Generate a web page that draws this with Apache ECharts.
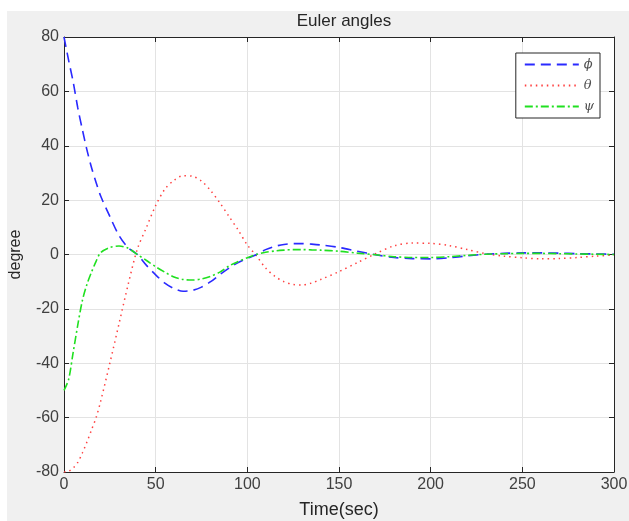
<!DOCTYPE html>
<html>
<head>
<meta charset="utf-8">
<script src="https://cdn.jsdelivr.net/npm/echarts@6/dist/echarts.min.js"></script>
<style>html,body{margin:0;padding:0;background:#fff}#c{width:629px;height:521px}</style>
</head>
<body>
<div id="c"></div>
<script>
const time = [0,2.5,5,7.5,10,12.5,15,17.5,20,25,30,35,40,45,50,55,60,65,70,75,80,85,90,95,100,105,110,115,120,125,130,135,140,150,160,170,180,190,200,210,220,230,240,250,260,270,280,290,300];
const phi = [80,71.5,63.5,54,46,38.5,32,26.5,21.5,14,7,2.5,0,-4,-7.5,-10.5,-12.5,-13.5,-13.2,-12,-10,-7.4,-5,-3,-1.4,0,1.8,3,3.7,4,4,3.8,3.5,2.6,1.2,-0.1,-1.1,-1.5,-1.6,-1.2,-0.5,0.1,0.4,0.6,0.6,0.5,0.3,0.2,0.1];
const theta = [-80,-79.7,-78.5,-76.5,-73,-69,-64.5,-60,-54,-40,-25.5,-11,2,10,18,24,27.3,29,28.8,27,23.5,19,14,9,3.5,-0.5,-5,-8,-10,-11,-11.2,-10.5,-9.2,-6.3,-3,0.3,3.2,4.2,4.1,3.3,1.8,0.3,-0.6,-1.2,-1.6,-1.5,-1.1,-0.6,-0.2];
const psi = [-50,-46,-36,-26,-17,-11,-6.5,-2.5,0.7,2.6,3.1,2.3,0,-2.2,-4.5,-6.5,-8.3,-9.2,-9.4,-9,-8,-6.5,-4.2,-2.6,-1.2,0,0.8,1.3,1.6,1.8,1.8,1.7,1.6,1.2,0.5,-0.1,-0.8,-1.1,-1.1,-0.8,-0.3,0.1,0.3,0.4,0.4,0.3,0.2,0.1,0];
const seriesNames = ['ϕ','θ','ψ'];
const xTicks = [0,50,100,150,200,250,300];
const yTicks = [-80,-60,-40,-20,0,20,40,60,80];

const pair = (arr) => time.map((t,i)=>[t,arr[i]]);
const chart = echarts.init(document.getElementById('c'));
const font = 'Liberation Sans, Arial, sans-serif';
const axisCol = '#262626';
const gridL = 64, gridR = 15, gridT = 37, gridB = 49;
chart.setOption({
  animation:false,
  backgroundColor:'#ffffff',
  graphic:[
    {type:'rect', z:-10, silent:true, shape:{x:7,y:11,width:622,height:510}, style:{fill:'#f0f0f0'}},
    {type:'rect', z:-9, silent:true, shape:{x:gridL,y:gridT,width:629-gridL-gridR,height:521-gridT-gridB}, style:{fill:'#ffffff'}}
  ],
  title:{text:'Euler angles', left:339, top:8, textAlign:'center',
    textStyle:{fontFamily:font,fontSize:17,fontWeight:'normal',color:axisCol}},
  legend:{
    right:29, top:53, orient:'vertical', itemGap:8, itemWidth:54, itemHeight:10,
    align:'left', padding:[5,6,5,8],
    backgroundColor:'#ffffff', borderColor:'#262626', borderWidth:1,
    itemStyle:{color:'rgba(0,0,0,0)', borderColor:'rgba(0,0,0,0)', borderWidth:0, opacity:0},
    textStyle:{fontFamily:'DejaVu Serif, serif',fontStyle:'italic',fontSize:13,color:'#505050'},
    data:seriesNames
  },
  grid:{left:gridL,right:gridR,top:gridT,bottom:gridB,containLabel:false,outerBoundsMode:'none'},
  xAxis:[{
    type:'value', min:0, max:300, interval:50,
    name:'Time(sec)', nameLocation:'middle', nameGap:29,
    nameTextStyle:{fontFamily:font,fontSize:18,color:axisCol},
    axisLine:{show:true,onZero:false,lineStyle:{color:axisCol,width:1}},
    axisTick:{show:true,inside:true,length:5,lineStyle:{color:axisCol}},
    axisLabel:{fontFamily:font,fontSize:16,color:'#404040',margin:5},
    splitLine:{show:true,lineStyle:{color:'#e3e3e3',width:1}}
  },{
    type:'value', min:0, max:300, interval:50, position:'top',
    axisLine:{show:true,onZero:false,lineStyle:{color:axisCol,width:1}},
    axisTick:{show:true,inside:true,length:5,lineStyle:{color:axisCol}},
    axisLabel:{show:false}, splitLine:{show:false}
  }],
  yAxis:[{
    type:'value', min:-80, max:80, interval:20,
    name:'degree', nameLocation:'middle', nameGap:40, nameRotate:90,
    nameTextStyle:{fontFamily:font,fontSize:16,color:axisCol},
    axisLine:{show:true,onZero:false,lineStyle:{color:axisCol,width:1}},
    axisTick:{show:true,inside:true,length:5,lineStyle:{color:axisCol}},
    axisLabel:{fontFamily:font,fontSize:16,color:'#404040',margin:5},
    splitLine:{show:true,lineStyle:{color:'#e3e3e3',width:1}}
  },{
    type:'value', min:-80, max:80, interval:20, position:'right',
    axisLine:{show:true,onZero:false,lineStyle:{color:axisCol,width:1}},
    axisTick:{show:true,inside:true,length:5,lineStyle:{color:axisCol}},
    axisLabel:{show:false}, splitLine:{show:false}
  }],
  series:[
    {name:seriesNames[0], type:'line', data:pair(phi), smooth:0.3, showSymbol:false, symbol:'none',
     lineStyle:{color:'#2a2aff',width:1.6,type:[10,6]}, itemStyle:{color:'#2a2aff'}, z:3},
    {name:seriesNames[1], type:'line', data:pair(theta), smooth:0.3, showSymbol:false, symbol:'none',
     lineStyle:{color:'#ff4040',width:1.5,type:[1.5,4]}, itemStyle:{color:'#ff4040'}, z:2},
    {name:seriesNames[2], type:'line', data:pair(psi), smooth:0.3, showSymbol:false, symbol:'none',
     lineStyle:{color:'#20e020',width:1.6,type:[8,3,2,3]}, itemStyle:{color:'#20e020'}, z:4}
  ]
});
</script>
</body>
</html>
